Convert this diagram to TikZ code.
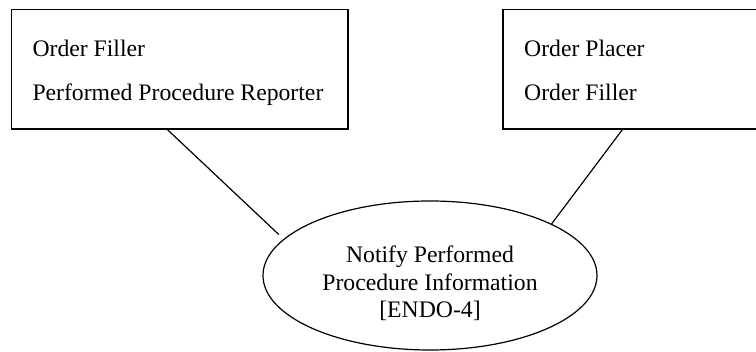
\documentclass[tikz,border=0pt]{standalone}
\usepackage{fontspec}
\setmainfont{Liberation Serif}
\usetikzlibrary{shapes.geometric,calc}
\begin{document}
\begin{tikzpicture}[x=1pt,y=-1pt,
  actor/.style={draw,line width=1.2pt,rectangle,inner sep=0pt,minimum height=119.5pt},
  txn/.style={draw,line width=1.2pt,ellipse,inner sep=0pt,minimum width=334pt,minimum height=149pt},
  lbl/.style={font=\fontsize{23.7}{28}\selectfont,inner sep=0pt},
  link/.style={line width=1.2pt}]
  \useasboundingbox (0,0) rectangle (756,352);
  \clip (0,0) rectangle (756,352);
  % actor boxes
  \node[actor,minimum width=336.5pt] (filler) at (179.75,69.25) {};
  \node[actor,minimum width=260pt] (placer) at (633,69.25) {};
  % transaction
  \node[txn] (trans) at (430,275.5) {};
  % actor names
  \node[lbl,anchor=base west] (f1) at (32.3,56.5) {Order Filler};
  \node[lbl,anchor=base west] (f2) at (32.3,100.5) {Performed Procedure Reporter};
  \node[lbl,anchor=base west] (p1) at (524,56.5) {Order Placer};
  \node[lbl,anchor=base west] (p2) at (524,100.5) {Order Filler};
  % transaction name
  \node[lbl,anchor=base] (t1) at (430,262.3) {Notify Performed};
  \node[lbl,anchor=base] (t2) at (430,290.3) {Procedure Information};
  \node[lbl,anchor=base] (t3) at (430,317.5) {[ENDO-4]};
  % connectors
  \coordinate (fa) at ($(filler.south west)+(156.5,0)$);
  \coordinate (pa) at ($(placer.south west)+(120,0)$);
  \draw[link,shorten >=6.4pt] (fa) -- (trans.166.6);
  \draw[link] (pa) -- (trans.23);
\end{tikzpicture}
\end{document}
